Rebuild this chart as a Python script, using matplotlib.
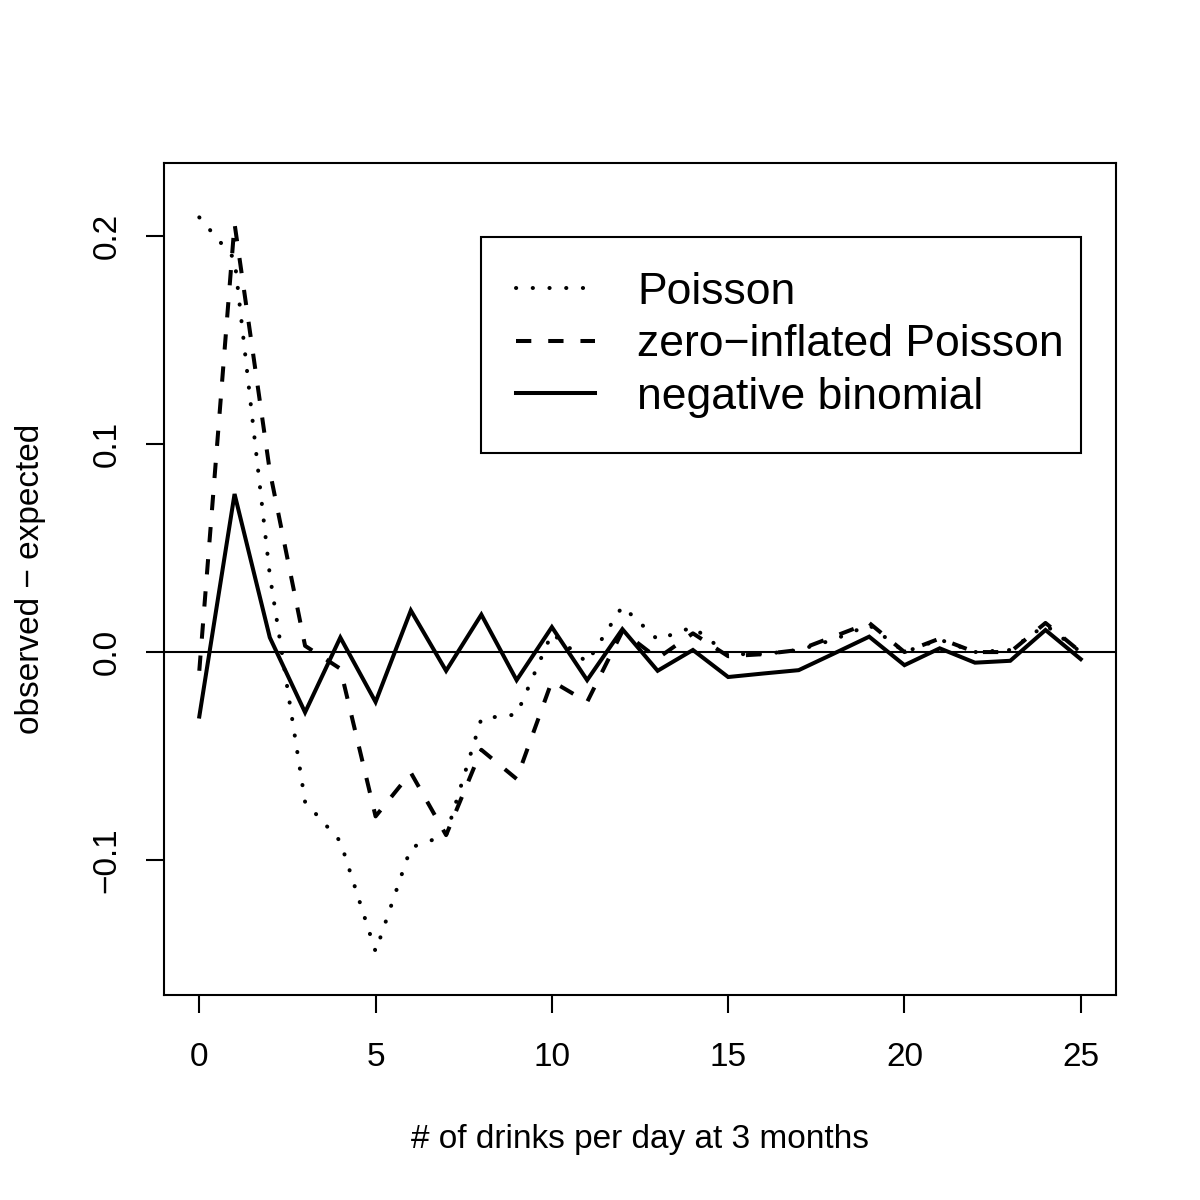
"""Observed minus expected frequencies for three count models (drinks per day at 3 months)."""

import matplotlib
matplotlib.use("Agg")
import matplotlib.pyplot as plt

plt.rcParams["font.family"] = ["Liberation Sans", "DejaVu Sans"]

# number of drinks per day
drinks = list(range(26))

# observed - expected
poisson = [0.209, 0.189, 0.037, -0.072, -0.091, -0.144, -0.094, -0.088, -0.032, -0.030,
           0.009, -0.005, 0.022, 0.006, 0.012, -0.001, -0.001, 0.001, 0.006, 0.013,
           0.000, 0.006, 0.000, 0.001, 0.013, 0.000]
zip_poisson = [-0.009, 0.206, 0.087, 0.003, -0.008, -0.079, -0.058, -0.088, -0.047, -0.061,
               -0.014, -0.024, 0.010, -0.003, 0.009, -0.002, -0.001, 0.001, 0.0075, 0.014,
               0.000, 0.0065, 0.000, 0.000, 0.014, 0.000]
neg_binomial = [-0.031, 0.076, 0.007, -0.029, 0.007, -0.024, 0.020, -0.009, 0.018, -0.0135,
                0.012, -0.0135, 0.011, -0.009, 0.001, -0.012, -0.0103, -0.0087, -0.0007, 0.0074,
                -0.0063, 0.0018, -0.0051, -0.0042, 0.0106, -0.0034]

series_labels = ["Poisson", "zero\u2212inflated Poisson", "negative binomial"]
x_ticks = [0, 5, 10, 15, 20, 25]
y_ticks = [-0.1, 0.0, 0.1, 0.2]
y_tick_labels = ["\u22120.1", "0.0", "0.1", "0.2"]

fig = plt.figure(figsize=(6, 6), dpi=200)
ax = fig.add_axes([0.1367, 0.1708, 0.7933, 0.6933])

lw = 1.45
ax.plot(drinks, poisson, color="black", lw=lw, dashes=(0.05, 4.1),
        dash_capstyle="round", label=series_labels[0])
ax.plot(drinks, zip_poisson, color="black", lw=lw, dashes=(3.8, 4.2),
        dash_capstyle="butt", label=series_labels[1])
ax.plot(drinks, neg_binomial, color="black", lw=lw, solid_joinstyle="miter",
        label=series_labels[2])
ax.axhline(0, color="black", lw=0.75)

ax.set_xlim(-1, 26)
ax.set_ylim(-0.1649, 0.2351)
ax.set_xticks(x_ticks)
ax.set_yticks(y_ticks)
ax.set_yticklabels(y_tick_labels, rotation=90, va="center")

for side in ax.spines.values():
    side.set_linewidth(0.75)
ax.tick_params(direction="out", length=6.5, width=0.75, labelsize=12)
ax.tick_params(axis="x", pad=10.5)
ax.tick_params(axis="y", pad=8.5)

ax.set_xlabel("# of drinks per day at 3 months", fontsize=12)
ax.set_ylabel("observed \u2212 expected", fontsize=12)
ax.xaxis.set_label_coords(0.5, -0.155)
ax.yaxis.set_label_coords(-0.124, 0.5)

leg = ax.legend(loc="upper left", bbox_to_anchor=(8, 0.1, 17, 0.0995),
                bbox_transform=ax.transData, mode="expand", fontsize=16,
                handlelength=1.78, handletextpad=0.95, borderpad=0.78,
                labelspacing=0.26, borderaxespad=0, fancybox=False,
                framealpha=1, edgecolor="black")
leg.get_frame().set_linewidth(0.75)

fig.savefig("out.png", dpi=200)
